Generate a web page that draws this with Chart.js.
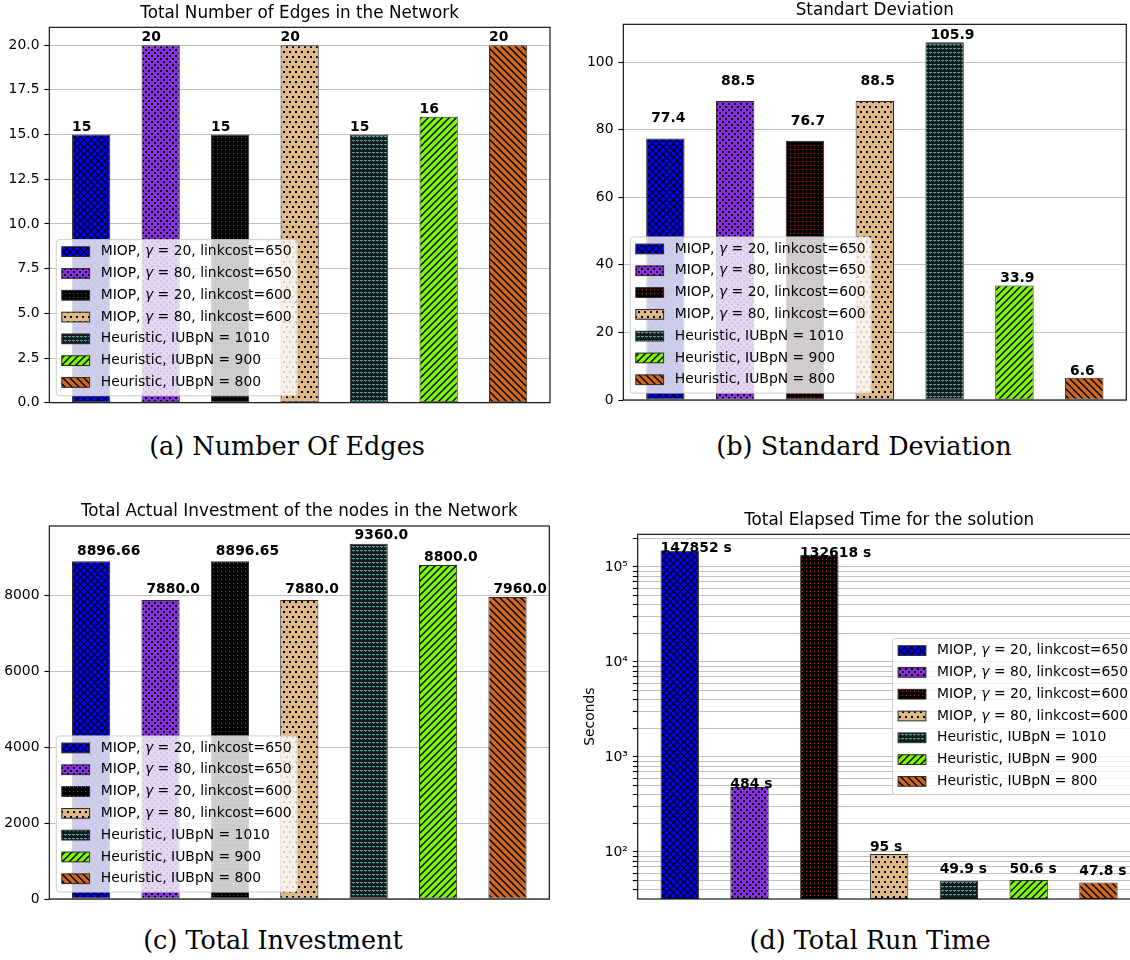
<!DOCTYPE html>
<html>
<head>
<meta charset="utf-8">
<script src="https://cdn.jsdelivr.net/npm/chart.js@4.4.0/dist/chart.umd.min.js"></script>
<style>
  html, body { margin: 0; padding: 0; background: #fff; width: 1130px; height: 960px; overflow: hidden; }
  canvas { position: absolute; }
  .cap { position: absolute; width: 600px; text-align: center; font-family: "DejaVu Serif", serif; font-size: 25.5px; line-height: 30px; color: #000; }
</style>
</head>
<body>
<canvas id="ca"></canvas>
<canvas id="cb"></canvas>
<canvas id="cc"></canvas>
<canvas id="cd"></canvas>
<div class="cap" style="left:-13px;top:431px">(a) Number Of Edges</div>
<div class="cap" style="left:564px;top:431px">(b) Standard Deviation</div>
<div class="cap" style="left:-27px;top:925px">(c) Total Investment</div>
<div class="cap" style="left:570px;top:925px">(d) Total Run Time</div>
<script>
const seriesLabels = [
  "MIOP, γ = 20, linkcost=650",
  "MIOP, γ = 80, linkcost=650",
  "MIOP, γ = 20, linkcost=600",
  "MIOP, γ = 80, linkcost=600",
  "Heuristic, IUBpN = 1010",
  "Heuristic, IUBpN = 900",
  "Heuristic, IUBpN = 800"
];
const positions = [0, 1, 2, 3, 4, 5, 6];

const edgesValues = [15, 20, 15, 20, 15, 16, 20];
const edgesText = ["15", "20", "15", "20", "15", "16", "20"];
const edgesTicks = [0, 2.5, 5, 7.5, 10, 12.5, 15, 17.5, 20];
const edgesTickText = ["0.0", "2.5", "5.0", "7.5", "10.0", "12.5", "15.0", "17.5", "20.0"];

const stdValues = [77.4, 88.5, 76.7, 88.5, 105.9, 33.9, 6.6];
const stdText = ["77.4", "88.5", "76.7", "88.5", "105.9", "33.9", "6.6"];
const stdTicks = [0, 20, 40, 60, 80, 100];
const stdTickText = ["0", "20", "40", "60", "80", "100"];

const investValues = [8896.66, 7880.0, 8896.65, 7880.0, 9360.0, 8800.0, 7960.0];
const investText = ["8896.66", "7880.0", "8896.65", "7880.0", "9360.0", "8800.0", "7960.0"];
const investTicks = [0, 2000, 4000, 6000, 8000];
const investTickText = ["0", "2000", "4000", "6000", "8000"];

const runtimeValues = [147852, 484, 132618, 95, 49.9, 50.6, 47.8];
const runtimeText = ["147852 s", "484 s", "132618 s", "95 s", "49.9 s", "50.6 s", "47.8 s"];
const runtimeTicks = [40, 50, 60, 70, 80, 90, 100, 200, 300, 400, 500, 600, 700, 800, 900,
  1000, 2000, 3000, 4000, 5000, 6000, 7000, 8000, 9000,
  10000, 20000, 30000, 40000, 50000, 60000, 70000, 80000, 90000, 100000, 200000];
const runtimeMajor = [100, 1000, 10000, 100000];
const runtimeMajorText = ["10²", "10³", "10⁴", "10⁵"];

const faceColors = ["#0000ff", "#8a2be2", "#000000", "#deb887", "#121c1c", "#7cfc00", "#d2691e"];
const hatchKinds = ["cross", "rings", "reddots", "dots", "teal", "fwd", "back"];

const FONT = '"DejaVu Sans"';

// small tiles used as canvas patterns, to look like matplotlib hatches
function makeHatch(kind, face) {
  const c = document.createElement("canvas");
  const g = c.getContext("2d");
  let w = 7, h = 7;
  if (kind === "rings") { w = 6; h = 6; }
  if (kind === "dots") { w = 6; h = 10; }
  if (kind === "teal") { w = 4; h = 4; }
  if (kind === "reddots") { w = 4; h = 4; }
  c.width = w; c.height = h;
  g.fillStyle = face;
  g.fillRect(0, 0, w, h);
  g.strokeStyle = "#000";
  g.fillStyle = "#000";
  if (kind === "cross") {
    g.lineWidth = 1.2;
    g.beginPath();
    g.moveTo(-1, -1); g.lineTo(w + 1, h + 1);
    g.moveTo(w + 1, -1); g.lineTo(-1, h + 1);
    g.stroke();
  } else if (kind === "rings") {
    g.fillRect(1, 1, 2, 2);
    g.fillRect(4, 4, 2, 2);
  } else if (kind === "reddots") {
    g.fillStyle = "rgba(220,40,30,0.9)";
    g.fillRect(1, 1, 1, 1);
  } else if (kind === "dots") {
    g.fillRect(1, 1, 2, 2);
    g.fillRect(4, 6, 2, 2);
  } else if (kind === "teal") {
    g.fillStyle = "#4f9696";
    g.fillRect(0, 0, 3, 1);
    g.fillStyle = "rgba(79,150,150,0.7)";
    g.fillRect(1, 1, 1, 1);
  } else {
    g.lineWidth = 1.5;
    g.beginPath();
    for (const o of [-w, 0, w]) {
      if (kind === "fwd") { g.moveTo(o - 1, h + 1); g.lineTo(o + w + 1, -1); }
      else { g.moveTo(o - 1, -1); g.lineTo(o + w + 1, h + 1); }
    }
    g.stroke();
  }
  return g.createPattern(c, "repeat");
}
const patterns = hatchKinds.map((k, i) => makeHatch(k, faceColors[i]));

const panels = [
  { id: "ca", box: [0, 0, 565, 425], area: [49.3, 27.3, 550, 402.7],
    title: "Total Number of Edges in the Network",
    values: edgesValues, text: edgesText, ticks: edgesTicks, tickText: edgesTickText,
    yMin: 0, yMax: 21, log: false, dx: 0, lift: [4, 4, 4, 4, 4, 4, 4], legend: "lower left" },
  { id: "cb", box: [565, 0, 600, 425], area: [623.3, 24.3, 1126.3, 400],
    title: "Standart Deviation",
    values: stdValues, text: stdText, ticks: stdTicks, tickText: stdTickText,
    yMin: 0, yMax: 111.195, log: false, dx: 5, lift: [16, 16, 16, 16, 3, 3, 3], legend: "lower left" },
  { id: "cc", box: [0, 490, 565, 425], area: [49.3, 526, 549.3, 899],
    title: "Total Actual Investment of the nodes in the Network",
    values: investValues, text: investText, ticks: investTicks, tickText: investTickText,
    yMin: 0, yMax: 9828, log: false, dx: 5, lift: [6.7, 6.7, 6.7, 6.7, 4.3, 4.3, 4.3], legend: "lower left" },
  { id: "cd", box: [565, 490, 600, 425], area: [637.7, 534.3, 1140.5, 899],
    title: "Total Elapsed Time for the solution",
    values: runtimeValues, text: runtimeText, ticks: runtimeTicks, tickText: null,
    yMin: 32, yMax: 220800, log: true, dx: 0, lift: [-1, -1, -1.3, 3.3, 7.3, 6.7, 7.7], legend: "center right",
    yTitle: "Seconds", yTitleX: 590 }
];

function drawLabel(ctx, text, x, y) {
  const parts = text.split("γ");
  ctx.font = "13.9px " + FONT;
  ctx.fillText(parts[0], x, y);
  if (parts.length < 2) return;
  x += ctx.measureText(parts[0]).width;
  ctx.font = "italic 13.9px " + FONT;
  ctx.fillText("γ", x, y);
  x += ctx.measureText("γ").width;
  ctx.font = "13.9px " + FONT;
  ctx.fillText(parts[1], x, y);
}
function labelWidth(ctx, text) {
  const parts = text.split("γ");
  ctx.font = "13.9px " + FONT;
  let w = parts.reduce((s, t) => s + ctx.measureText(t).width, 0);
  if (parts.length > 1) { ctx.font = "italic 13.9px " + FONT; w += ctx.measureText("γ").width; }
  return w;
}

function makeDecor(p) {
  return {
    id: "decor",
    afterDraw(chart) {
      const ctx = chart.ctx;
      const ca = chart.chartArea;
      ctx.save();
      // axes frame
      ctx.strokeStyle = "#000";
      ctx.lineWidth = 1.1;
      ctx.strokeRect(ca.left, ca.top, ca.right - ca.left, ca.bottom - ca.top);

      // value labels above bars
      ctx.fillStyle = "#000";
      ctx.font = "bold 13.9px " + FONT;
      ctx.textAlign = "left";
      ctx.textBaseline = "alphabetic";
      chart.data.datasets.forEach((ds, i) => {
        const bar = chart.getDatasetMeta(i).data[0];
        ctx.fillText(p.text[i], bar.x - bar.width / 2 + p.dx, bar.y - p.lift[i]);
      });

      // legend box, matplotlib style
      const fs = 13.9;
      const pitch = 21.8, firstOff = 12, lastOff = 13.3;
      const textW = Math.max(...seriesLabels.map(t => labelWidth(ctx, t)));
      const bw = 0.4 * fs + 2 * fs + 0.8 * fs + textW + 0.4 * fs;
      const bh = firstOff + pitch * (seriesLabels.length - 1) + lastOff;
      let bx, by;
      if (p.legend === "lower left") {
        bx = ca.left + 0.5 * fs;
        by = ca.bottom - 0.5 * fs - bh;
      } else {
        bx = ca.right - 0.5 * fs - bw;
        by = (ca.top + ca.bottom) / 2 - bh / 2;
      }
      ctx.beginPath();
      ctx.roundRect(bx, by, bw, bh, 3);
      ctx.fillStyle = "rgba(255,255,255,0.8)";
      ctx.fill();
      ctx.strokeStyle = "#cccccc";
      ctx.lineWidth = 1;
      ctx.stroke();
      ctx.textBaseline = "middle";
      seriesLabels.forEach((t, i) => {
        const cy = by + firstOff + pitch * i;
        const hx = bx + 0.4 * fs, hw = 2 * fs, hh = 0.7 * fs;
        ctx.fillStyle = patterns[i];
        ctx.fillRect(hx, cy - hh / 2, hw, hh);
        ctx.strokeStyle = "#2b2b2b";
        ctx.lineWidth = 1;
        ctx.strokeRect(hx, cy - hh / 2, hw, hh);
        ctx.fillStyle = "#000";
        drawLabel(ctx, t, hx + hw + 0.8 * fs, cy);
      });
      ctx.restore();
    }
  };
}

function buildChart(p) {
  const [bx, by, bw, bh] = p.box;
  const [L, T, R, B] = p.area;
  const canvas = document.getElementById(p.id);
  canvas.width = bw;
  canvas.height = bh;
  canvas.style.left = bx + "px";
  canvas.style.top = by + "px";
  canvas.style.width = bw + "px";
  canvas.style.height = bh + "px";

  const datasets = seriesLabels.map((label, i) => ({
    label,
    data: [{ x: positions[i], y: p.values[i] }],
    backgroundColor: patterns[i],
    borderColor: "#2b2b2b",
    borderWidth: 1,
    borderSkipped: false,
    grouped: false,
    barPercentage: 0.55,
    categoryPercentage: 1
  }));

  const titleLine = 16.8 * 1.2;
  new Chart(canvas, {
    type: "bar",
    data: { datasets },
    options: {
      responsive: false,
      animation: false,
      events: [],
      layout: { padding: { left: 0, top: 0, right: bx + bw - R, bottom: by + bh - B } },
      plugins: {
        legend: { display: false },
        tooltip: { enabled: false },
        title: {
          display: true,
          fullSize: false,
          text: p.title,
          color: "#000",
          font: { family: FONT, size: 16.8, weight: "normal", lineHeight: 1.2 },
          padding: { top: T - by - 8.3 - 5.8 - titleLine / 2, bottom: 8.3 + 5.8 - titleLine / 2 }
        }
      },
      scales: {
        x: {
          type: "linear",
          display: false,
          offset: false,
          grid: { offset: false },
          min: -0.6025,
          max: 6.6025,
          afterBuildTicks: s => { s.ticks = positions.map(v => ({ value: v })); }
        },
        y: {
          type: p.log ? "logarithmic" : "linear",
          position: "left",
          min: p.yMin,
          max: p.yMax,
          z: 1,
          afterFit: s => { s.width = L - bx; },
          afterBuildTicks: s => { s.ticks = p.ticks.map(v => ({ value: v })); },
          ticks: {
            color: "#000",
            autoSkip: false,
            maxRotation: 0,
            padding: 4.9,
            font: { family: FONT, size: 13.9 },
            callback: (v, idx) => {
              if (!p.log) return p.tickText[idx];
              const k = runtimeMajor.indexOf(v);
              return k >= 0 ? runtimeMajorText[k] : "";
            }
          },
          grid: { color: "#bfbfbf", lineWidth: 1, tickColor: "#000", tickLength: 4.9, tickWidth: 1.1 },
          border: { display: false },
          title: p.yTitle ? {
            display: true,
            text: p.yTitle,
            color: "#000",
            font: { family: FONT, size: 13.9, lineHeight: 1.2 },
            padding: { top: p.yTitleX - bx - 13.9 * 0.6, bottom: 0 }
          } : { display: false }
        }
      }
    },
    plugins: [makeDecor(p)]
  });
}

panels.forEach(buildChart);
</script>
</body>
</html>
